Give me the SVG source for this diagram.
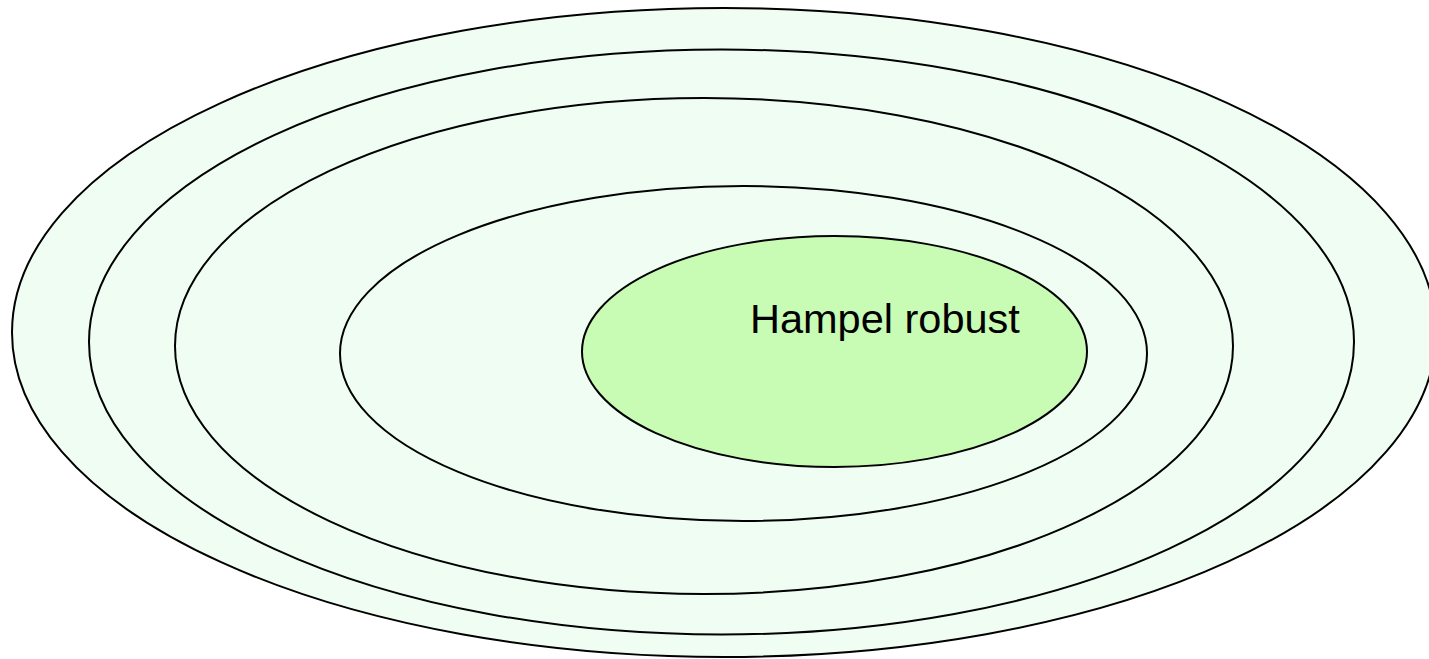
<svg xmlns="http://www.w3.org/2000/svg" width="1429" height="659" viewBox="0 0 1429 659">
<style>
.ring{fill:#effdf3;stroke:#000;stroke-width:2}
.core{fill:#c8fbb4;stroke:#000;stroke-width:2}
.lbl{font-family:"Liberation Sans",Arial,sans-serif;font-size:41.5px;fill:#000}
</style>
<rect width="1429" height="659" fill="#fff"/>
<g id="ring1"><ellipse class="ring" cx="724" cy="332.5" rx="712" ry="324.5"/></g>
<g id="ring2"><ellipse class="ring" cx="721.5" cy="342" rx="632.5" ry="292.5"/></g>
<g id="ring3"><ellipse class="ring" cx="704" cy="346" rx="529" ry="248"/></g>
<g id="ring4"><ellipse class="ring" cx="743.5" cy="353.5" rx="403.5" ry="167.5"/></g>
<g id="hampel"><ellipse class="core" cx="834.5" cy="351.5" rx="252.5" ry="115.5"/>
<text class="lbl" x="750" y="333">Hampel robust</text></g>
<g id="connectors"/>
</svg>
